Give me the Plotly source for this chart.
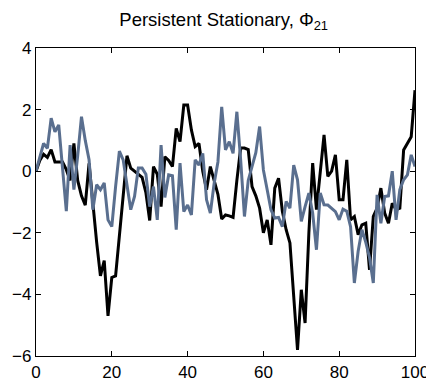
import plotly.graph_objects as go

x_vals = list(range(0, 101))

black_series = [
    0.0, 0.35, 0.55, 0.45, 0.7, 0.3, 0.3, 0.3, 0.05, -0.3,
    0.9, -0.3, -0.8, -1.1, 0.25, -1.15, -2.3, -3.4, -2.9, -4.7,
    -3.45, -3.4, -2.1, -0.8, 0.5, 0.1, 0.0, -0.1, -0.2, -0.7,
    -1.6, 0.15, -0.1, -1.15, 0.47, 0.35, 0.15, 1.39, 0.96, 2.15,
    2.15, 1.34, 0.8, 0.9, 0.0, -0.6, 0.15, -0.3, -0.75, -1.55,
    -1.42, -1.45, -1.5, -0.3, 0.75, 0.75, 0.7, -0.5, -0.8, -1.2,
    -2.0, -1.58, -2.39, -0.55, -0.23, -1.3, -1.9, -2.33, -4.0, -5.8,
    -3.85, -4.93, -2.0, 0.26, -1.25, 0.0, 1.18, -0.17, 0.0, 0.53,
    -0.93, -0.93, 0.37, -1.58, -1.47, -2.06, -1.74, -1.69, -3.2, -1.47,
    -1.2, -0.55, -1.36, -1.69, -1.04, -1.25, -1.2, 0.69, 0.9, 1.12,
    2.63,
]

blue_series = [
    0.0, 0.5, 0.9, 0.74, 1.72, 1.28, 1.5, 0.1, -1.3, 0.85,
    -0.6, 0.5, 1.77, 1.0, 0.37, -1.25, -0.44, -0.6, -0.38, -1.58,
    -1.8, -0.5, 0.65, 0.37, -0.5, -1.25, -0.82, 0.1, 0.1, -0.1,
    -1.15, -0.5, -1.58, 0.85, -0.85, -0.12, -0.15, -1.9, 0.26, -1.31,
    -1.1, -1.42, 0.37, 0.2, 0.58, -0.93, -1.36, -0.4, 0.3, 2.09,
    0.69, 0.96, 0.58, 1.93, 0.37, -1.47, -0.3, 0.15, 0.6, 1.45,
    0.04, -0.6, -1.25, -1.52, -1.5, -1.8, -0.98, -1.2, 0.2, -0.28,
    -1.63, -1.15, -0.71, -1.36, -2.55, -0.71, -1.09, -1.1, -1.2, -1.31,
    -1.58, -1.23, -1.3, -1.8, -3.63, -2.6, -1.9, -2.3, -2.8, -3.63,
    -0.77, -1.69, -0.82, -0.8, 0.0, -1.58, -0.6, -0.28, -0.12, 0.53,
    0.15,
]

title_text = "Persistent Stationary, Φ<sub>21</sub>"
x_ticks = [0, 20, 40, 60, 80, 100]
y_ticks = [-6, -4, -2, 0, 2, 4]

fig = go.Figure()
fig.add_trace(go.Scatter(x=x_vals, y=black_series, mode="lines",
                         line=dict(color="#000000", width=3)))
fig.add_trace(go.Scatter(x=x_vals, y=blue_series, mode="lines",
                         line=dict(color="#5a6f8f", width=3)))

axis_common = dict(
    showgrid=False, zeroline=False, showline=True, linecolor="#000000",
    linewidth=1.2, mirror="ticks", ticks="inside", ticklen=5,
    tickcolor="#000000", tickwidth=1, automargin=False,
    tickfont=dict(family="Liberation Sans, Arial, sans-serif", size=17, color="#000000"),
)

# The page body has an 8px default margin, so the margins are offset to compensate.
fig.update_layout(
    template="none",
    width=434, height=387,
    margin=dict(l=28, r=27, t=40, b=39, pad=0),
    paper_bgcolor="#ffffff", plot_bgcolor="#ffffff",
    showlegend=False,
    title=dict(text=title_text, x=0.497, xanchor="center", y=0.969, yanchor="middle",
               font=dict(family="Liberation Sans, Arial, sans-serif", size=18.5, color="#000000")),
    xaxis=dict(range=[0, 100], tickvals=x_ticks, **axis_common),
    yaxis=dict(range=[-6, 4], tickvals=y_ticks, **axis_common),
)

fig.write_html("out.html")
